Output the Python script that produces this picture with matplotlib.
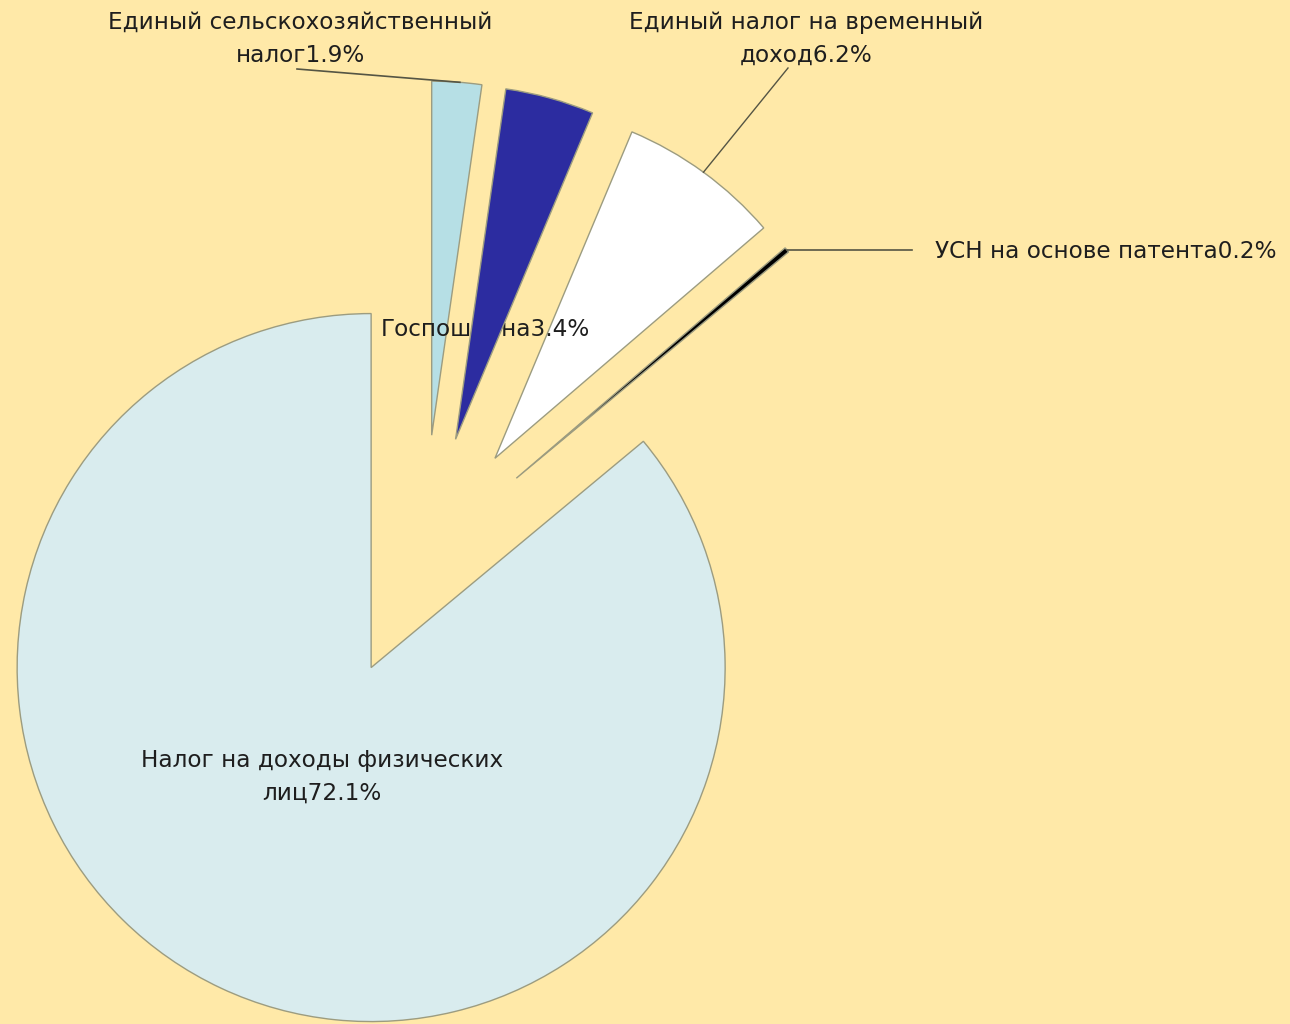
import numpy as np
import matplotlib.pyplot as plt

# доли налогов, % (порядок по часовой стрелке от 12 часов)
labels = ["Единый сельскохозяйственный\nналог", "Госпошлина",
          "Единый налог на временный\nдоход", "УСН на основе патента",
          "Налог на доходы физических\nлиц"]
shares = [1.9, 3.4, 6.2, 0.2, 72.1]
colors = ["#b6dfe5", "#2c2ca0", "#ffffff", "#000000", "#d9ecee"]

bg = "#ffe9a8"
W, H = 1290, 1024
cx, cy, R = 423, 557, 354   # центр и радиус пирога в пикселях


def px(x, y):
    # пиксели картинки -> координаты осей
    return (x - cx) / R, (cy - y) / R


fig = plt.figure(figsize=(W / 100, H / 100), dpi=100)
fig.patch.set_facecolor(bg)
ax = fig.add_axes([0, 0, 1, 1])
ax.set_facecolor(bg)

wedges, _ = ax.pie(shares, colors=colors, startangle=90, counterclock=False,
                   explode=[0.345] * len(shares),
                   wedgeprops=dict(edgecolor="#9c9c80", linewidth=1.0, zorder=3))
# тёмно-синий сектор перекрывает подпись "Госпошлина", как в оригинале
wedges[1].set_zorder(6)

# pie сбрасывает пределы, поэтому ставим их после
ax.set_xlim(-cx / R, (W - cx) / R)
ax.set_ylim(-(H - cy) / R, cy / R)
ax.set_aspect("equal")
ax.axis("off")


def outer_point(w, frac):
    ang = np.deg2rad(w.theta1 + (w.theta2 - w.theta1) * frac)
    return w.center[0] + w.r * np.cos(ang), w.center[1] + w.r * np.sin(ang)


font = dict(family=["DejaVu Sans"], fontsize=16.7, color="#1e1e1e")

# подписи
txt = [f"{l}{s}%" for l, s in zip(labels, shares)]

ax.text(*px(300, 39), txt[0], ha="center", va="center", linespacing=1.55, zorder=5, **font)
ax.text(*px(381, 329), txt[1], ha="left", va="center", zorder=5, **font)
ax.text(*px(806, 39), txt[2], ha="center", va="center", linespacing=1.55, zorder=5, **font)
ax.text(*px(935, 252), txt[3], ha="left", va="center", zorder=5, **font)
ax.text(*px(322, 777), txt[4], ha="center", va="center", linespacing=1.55, zorder=5, **font)

# выноски
p = outer_point(wedges[0], 0.44)
a = px(297, 69)
ax.plot([a[0], p[0]], [a[1], p[1]], color="#555544", lw=1.2, zorder=4)

p = outer_point(wedges[2], 0.5)
a = px(788, 68)
ax.plot([a[0], p[0]], [a[1], p[1]], color="#555544", lw=1.0, zorder=4)

p = outer_point(wedges[3], 0.5)
a = px(912, 0)
ax.plot([p[0], a[0]], [p[1], p[1]], color="#555544", lw=1.2, zorder=4)

fig.savefig("out.png", dpi=100, facecolor=bg)
